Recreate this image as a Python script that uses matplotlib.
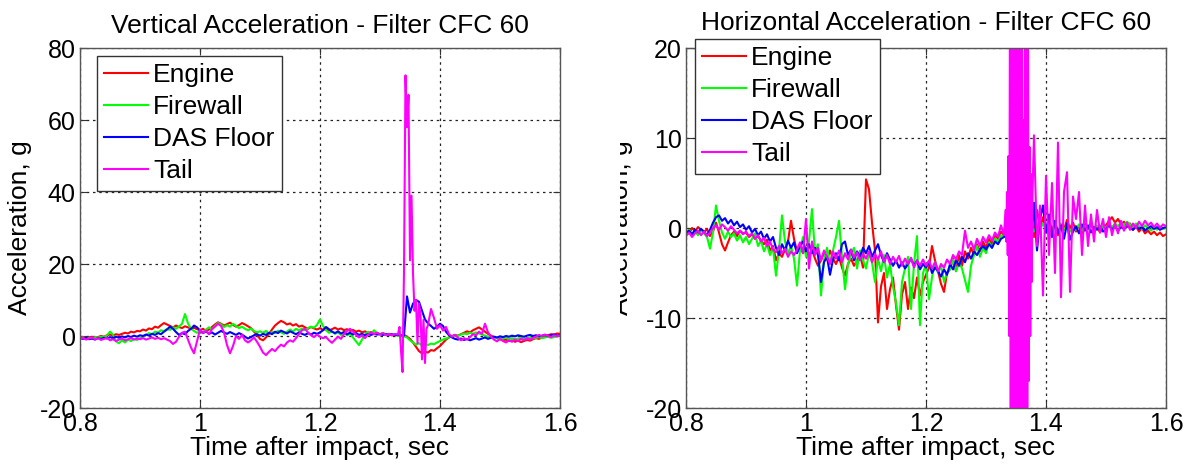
import numpy as np
import matplotlib
matplotlib.use("Agg")
import matplotlib.pyplot as plt
from matplotlib.transforms import Bbox, TransformedBbox

plt.rcParams['font.family'] = ['Liberation Sans', 'DejaVu Sans']
plt.rcParams['axes.unicode_minus'] = False

# ---------------- data ----------------
series_names = ["Engine", "Firewall", "DAS Floor", "Tail"]
series_colors = ["#ff0000", "#00ff00", "#0000ff", "#ff00ff"]

# Vertical acceleration, g (t = 0.800 ... 1.600 s, step 0.005)
v_engine = [
    -0.5,-0.3,-0.6,-0.4,-0.2,-0.5,-0.3,0.0,-0.2,0.2,0.4,0.1,0.5,0.3,0.6,0.9,0.7,1.2,1.0,1.4,
    1.3,1.8,1.5,2.1,1.9,2.6,2.3,3.0,3.6,3.2,2.8,2.4,2.9,2.5,2.2,2.7,2.4,2.0,2.3,1.9,
    1.6,2.0,1.4,1.8,2.5,3.2,3.8,3.4,2.9,3.3,3.7,3.1,2.6,3.0,3.6,3.2,2.7,2.2,1.2,0.3,
    -0.8,-1.2,-0.4,0.6,1.8,2.9,3.6,4.2,3.8,3.2,3.5,2.9,3.3,2.6,2.9,2.4,2.0,2.5,2.1,1.8,
    2.2,1.7,2.0,1.5,1.9,2.3,1.8,2.1,1.6,1.9,1.4,1.7,1.2,1.5,1.0,1.3,0.8,1.1,0.6,0.9,
    0.5,0.7,0.3,0.5,0.2,0.4,0.1,0.0,0.3,-0.2,-0.8,-1.8,-3.0,-4.2,-4.8,-4.4,-4.6,-3.9,-4.1,-3.4,
    -2.8,-1.9,-1.0,-0.4,0.0,0.3,0.1,0.5,0.9,1.3,1.0,1.6,2.0,2.4,1.8,1.2,0.6,0.1,-0.3,-0.6,
    -0.9,-1.2,-1.0,-1.4,-1.2,-1.6,-1.3,-1.7,-1.4,-1.1,-1.3,-0.9,-0.6,-0.8,-0.4,-0.1,0.2,0.5,0.4,0.7,
    0.6]
v_firewall = [
    -0.6,-0.4,-0.7,-0.5,-0.8,-0.3,-0.5,-0.2,-0.4,0.2,1.2,0.4,-1.5,-2.0,-1.2,-1.8,-1.0,-1.4,-0.8,-1.1,
    -0.6,-0.2,0.3,0.8,0.5,1.2,0.9,1.6,1.3,2.0,1.7,2.4,2.0,2.6,3.4,6.1,3.5,2.0,1.4,0.9,
    1.3,0.8,1.8,2.4,1.9,2.8,3.6,3.2,2.5,3.0,2.6,3.4,2.8,2.2,2.6,2.0,1.6,2.1,1.4,1.0,
    1.3,0.9,1.4,0.7,1.1,0.8,1.5,1.0,0.6,1.2,1.8,1.3,2.0,1.5,2.1,1.6,2.2,2.6,2.3,3.1,
    4.6,2.8,1.6,0.9,1.3,0.6,1.0,0.3,0.8,0.2,0.6,-0.4,-1.5,-2.5,-1.0,0.4,1.2,0.5,1.6,0.8,
    0.5,0.9,0.3,0.6,0.2,0.4,0.0,0.2,-0.1,-0.4,-1.2,-1.8,-2.4,-2.0,-2.6,-2.2,-2.5,-2.1,-2.3,-1.8,
    -1.4,-1.0,-0.7,-0.4,-0.1,0.2,0.0,0.4,0.7,0.5,0.9,0.6,1.0,0.7,0.4,0.1,-0.2,-0.5,-0.3,-0.6,
    -0.4,-0.7,-0.5,-0.8,-0.6,-0.9,-0.7,-0.5,-0.8,-0.6,-0.4,-0.7,-0.5,-0.3,-0.6,-0.4,-0.2,-0.5,-0.3,-0.1,
    0.0]
v_das = [
    -0.6,-0.8,-0.5,-0.9,-0.7,-1.0,-0.6,-0.8,-0.5,-0.7,-0.3,-0.6,-0.2,-0.5,-0.1,-0.4,0.0,-0.3,0.1,-0.2,
    0.2,0.0,0.4,0.1,0.6,0.3,0.8,0.5,1.2,1.8,2.6,2.0,1.1,0.3,0.8,0.5,1.4,2.0,2.9,2.4,
    1.5,0.8,1.3,0.6,1.0,0.4,0.9,1.4,1.0,0.6,1.1,0.7,0.3,0.8,0.4,-0.2,-0.7,-0.3,0.2,0.5,
    0.1,0.6,0.3,0.9,0.5,1.2,0.8,1.5,1.1,0.7,1.3,0.9,0.5,1.0,0.6,0.3,0.8,0.4,0.9,0.6,
    1.0,1.6,2.5,1.9,1.2,0.8,1.3,0.7,1.1,0.5,0.9,0.4,0.8,0.3,0.6,0.2,0.5,0.3,0.6,0.4,
    0.5,0.3,0.6,0.4,0.5,0.3,0.4,0.2,0.1,11.0,6.5,9.0,10.0,9.5,7.0,4.6,3.5,2.8,2.0,2.6,
    3.4,2.8,1.2,0.2,-0.4,-0.8,-1.0,-0.7,-1.1,-0.8,-1.2,-0.9,-0.6,-1.0,-0.7,-0.4,-0.8,-0.5,-0.2,-0.4,
    -0.1,-0.3,0.0,-0.2,0.1,-0.1,0.2,0.0,-0.2,0.1,0.3,0.0,0.2,-0.1,0.1,0.3,0.0,0.2,0.4,0.1,
    0.2]
# Tail: 0.800-1.325 (step 0.005), 1.330-1.3775 (step 0.0025), 1.380-1.600 (step 0.005)
v_tail_a = [
    -0.8,-0.5,-1.0,-0.7,-0.4,-0.9,-0.6,-1.1,-0.8,-0.5,-1.2,-0.9,-1.4,-1.0,-0.7,-1.2,-0.9,-0.6,-1.0,-0.7,
    -0.9,-0.6,-1.0,-0.7,-0.4,-0.8,-0.5,-0.9,-0.6,-1.0,-1.4,-2.2,-1.6,-0.2,0.9,1.2,-1.0,-3.2,-4.8,-1.5,
    1.8,0.8,1.5,0.5,1.9,2.6,3.4,2.8,1.0,-2.5,-4.8,-2.8,0.0,-0.8,0.3,-1.2,-1.8,-1.2,-0.4,-1.6,
    -3.0,-4.6,-5.3,-4.4,-3.6,-4.2,-3.2,-2.4,-2.9,-1.8,-1.2,-1.6,-0.6,0.5,1.6,2.0,1.0,0.2,-0.3,0.4,
    -0.2,-0.6,-0.3,-1.2,-1.9,-1.0,-0.2,-0.8,0.5,1.4,2.0,1.2,0.3,-0.4,0.2,-0.6,0.4,1.0,0.5,0.9,
    0.4,0.8,0.3,0.6,0.2,0.5]
v_tail_b = [0.5,2.5,-4.0,-10.0,18.0,72.4,58.0,67.0,21.0,39.0,17.5,7.0,10.0,-2.0,9.0,6.0,-6.5,4.5,-7.5,2.0]
v_tail_c = [3.0,7.5,5.0,2.0,3.0,1.5,2.5,0.5,-0.2,0.3,-0.5,-1.2,-0.6,-1.0,-0.3,0.5,0.2,1.2,0.6,3.4,
    1.0,-0.2,-1.0,-1.5,-0.8,-1.4,-1.8,-1.2,-1.6,-1.0,-1.4,-0.8,-1.2,-0.6,-1.0,-0.5,-0.2,0.3,-0.1,0.4,
    0.0,-0.3,0.2,-0.1,0.1]

# Horizontal acceleration, g (t = 0.800 ... 1.600 s, step 0.005)
h_engine = [
    -0.3,-0.6,0.0,-0.4,0.1,-0.2,-0.5,-0.1,-0.9,-0.4,0.6,-0.5,-1.8,-2.5,-1.6,-0.8,-0.4,-0.9,-0.3,-0.6,
    -0.5,-1.0,-0.7,-1.2,-0.9,-1.4,-1.8,-1.3,-2.5,-2.0,-3.6,-2.8,-3.2,-2.4,-1.5,0.8,-1.2,-2.6,-2.0,-2.8,
    -2.2,-3.0,-2.4,-3.4,-4.2,-3.6,-2.8,-3.5,-2.5,-3.4,-4.0,-3.2,-4.4,-5.3,-4.0,-3.4,-4.2,-3.6,-2.9,-4.4,
    5.4,4.3,0.6,-2.5,-10.5,-6.5,-5.0,-9.0,-6.8,-5.5,-8.6,-11.3,-7.4,-6.0,-9.0,-6.6,-7.8,-5.5,-7.5,-6.0,
    -5.2,-4.4,-2.0,-3.6,-4.8,-6.2,-7.1,-5.0,-4.6,-3.4,-4.8,-3.0,-4.2,-2.6,-3.4,-2.2,-3.0,-1.8,-2.6,-1.5,
    -2.2,-1.2,-1.8,-0.8,-1.2,-0.4,-0.8,-0.2,-1.5,-3.0,-1.0,0.5,-2.0,1.2,-0.5,1.5,-1.0,2.0,0.0,1.2,
    -0.5,0.8,-0.3,0.6,-0.8,0.4,-0.2,0.9,0.0,0.6,-0.4,0.3,-0.6,0.5,-0.1,0.4,-0.3,0.2,-0.5,0.1,
    0.3,0.8,1.2,0.6,1.0,0.4,0.7,0.1,0.5,-0.2,0.2,-0.4,0.0,-0.6,-0.3,-0.7,-0.4,-0.8,-0.5,-0.9,
    -0.7]
h_firewall = [
    -0.5,-0.2,-0.7,-0.4,-0.8,-0.3,-0.6,-1.0,-2.3,-0.5,2.5,0.8,-0.5,-1.2,-0.4,-1.0,-0.6,-1.4,-0.8,-1.6,
    -1.0,-1.8,-1.2,-0.6,-2.0,-1.4,-2.6,-1.8,-3.0,-2.2,-5.3,-2.4,1.4,-1.5,-2.8,-2.0,-3.4,-6.4,-2.5,-1.0,
    -3.2,-1.5,2.1,-2.8,-1.8,-7.5,-3.5,-2.2,-4.0,-2.5,-1.0,0.8,-3.2,-6.8,-4.0,-3.0,-2.2,-4.5,-2.5,-3.6,
    -4.5,-2.8,-3.8,-6.0,-3.4,-4.8,-3.0,-5.5,-4.0,-6.5,-8.3,-10.8,-6.0,-4.5,-3.2,-9.0,-4.0,-0.9,-10.8,-5.0,
    -4.0,-7.9,-5.5,-3.8,-5.0,-4.2,-6.0,-5.0,-4.6,-3.5,-4.8,-3.8,-4.5,-5.8,-7.1,-4.2,-3.0,-2.0,-3.2,-2.2,
    -2.8,-1.6,-2.2,-1.2,-1.6,-0.8,-1.0,-0.5,-1.2,-0.2,-1.5,-0.5,-0.9,0.2,-0.6,0.6,-0.4,0.3,-0.2,0.5,
    0.0,0.4,-0.3,0.2,-0.5,0.5,-0.2,0.3,-0.4,0.1,-0.2,0.4,-0.3,0.2,-0.1,0.5,0.0,0.3,-0.2,0.2,
    0.0,0.4,0.1,0.5,0.2,0.6,0.3,0.7,0.4,0.1,0.5,0.2,-0.1,0.3,0.0,-0.3,0.1,-0.2,0.2,-0.1,
    0.0]
h_das = [
    -0.6,-0.3,-0.7,-0.2,-0.5,-0.1,-0.4,-0.8,-0.2,0.6,1.2,1.4,0.8,1.1,0.5,0.9,0.3,0.7,0.1,0.4,
    -0.2,0.2,-0.5,-0.1,-0.8,-0.4,-1.2,-0.7,-1.5,-1.0,-2.2,-3.0,-1.8,-2.5,-1.4,-2.2,-1.6,-2.8,-2.0,-1.5,
    -2.6,-1.8,-2.8,-2.2,-3.0,-6.0,-3.8,-3.2,-5.2,-3.5,-2.8,-3.6,-1.8,-1.5,-3.0,-2.4,-3.6,-2.6,-3.2,-2.2,
    -2.8,-2.0,-3.2,-2.5,-1.8,-3.0,-3.8,-2.8,-3.5,-4.2,-3.6,-4.4,-3.8,-4.5,-4.0,-3.4,-4.2,-3.6,-4.6,-4.0,
    -4.4,-3.8,-5.0,-4.4,-4.8,-5.4,-4.6,-5.2,-4.0,-4.6,-3.6,-4.2,-3.2,-3.8,-2.8,-3.4,-2.6,-3.0,-2.4,-2.0,
    -2.4,-1.8,-2.2,-1.5,-1.8,-1.2,-1.0,-0.6,-0.4,-1.5,2.0,-3.0,1.5,-6.8,2.5,-2.0,2.8,-2.5,1.0,2.5,
    -0.5,1.5,-1.0,0.8,-0.6,0.3,-1.2,0.5,-1.3,-0.4,0.2,-0.6,0.4,-0.3,0.3,-0.5,0.1,-0.2,0.2,-0.4,
    -0.1,0.3,-0.2,0.2,-0.3,0.1,-0.1,0.3,0.0,-0.2,0.2,-0.1,0.1,-0.3,0.0,0.2,-0.1,0.1,-0.2,0.0,
    0.1]
# Tail: 0.800-1.330 (step 0.005), 1.3325-1.3775 (step 0.00125), 1.380-1.600 (step 0.005)
h_tail_a = [
    -0.9,-0.5,-1.0,-0.6,-0.3,-0.8,-0.4,-0.9,-0.5,0.0,0.3,-0.2,0.4,0.1,-0.3,0.2,-0.2,-0.6,-0.3,-0.7,
    -0.4,-0.9,-0.6,-1.2,-0.8,-1.5,-1.1,-2.0,-1.5,-2.4,-2.7,-2.0,-2.8,-2.3,-3.2,-2.6,-3.0,-2.4,-1.6,-2.8,
    1.0,-4.5,-1.5,-3.0,-2.2,-3.6,-2.5,-3.2,-4.0,-2.6,-3.4,-2.5,-3.8,-2.8,-3.5,-2.4,-3.3,-2.7,-3.6,-2.9,
    -3.4,-2.6,-3.8,-2.9,-3.5,-2.6,-3.8,-3.0,-4.0,-3.2,-3.8,-3.1,-4.2,-3.4,-4.0,-3.3,-4.4,-3.6,-4.2,-3.5,
    -4.2,-3.6,-4.5,-3.8,-4.8,-4.0,-4.4,-3.5,-4.0,-3.0,-3.5,-2.6,-3.0,-0.3,-2.2,-1.5,-2.4,-1.2,-2.0,-1.0,
    -1.6,-0.8,-1.4,-0.5,-1.0,0.3,-0.8]
h_tail_b = [2.0,-1.5,4.0,-3.0,8.0,-12.0,30.0,-30.0,28.0,-28.0,32.0,-25.0,26.0,-30.0,30.0,-27.0,25.0,-32.0,
    28.0,-26.0,30.0,-22.0,27.0,-28.0,12.0,-30.0,30.0,-24.0,26.0,-21.0,22.0,-17.0,9.0,-12.0,6.0,-6.0,4.0]
h_tail_c = [10.3,-2.0,2.5,-7.5,5.8,-3.0,5.0,-5.0,9.5,-7.7,4.0,6.2,-7.1,3.5,1.0,4.0,-3.0,2.5,-2.0,1.5,
    -1.5,2.0,-0.5,1.0,-1.0,1.2,-0.8,0.5,-0.6,0.8,-0.3,0.6,-0.2,0.5,0.0,0.7,0.2,0.8,0.3,0.6,
    0.1,0.5,0.0,0.4,0.2]

x_ticks = [0.8, 1.0, 1.2, 1.4, 1.6]
x_ticklabels = ["0.8", "1", "1.2", "1.4", "1.6"]
v_yticks = [-20, 0, 20, 40, 60, 80]
h_yticks = [-20, -10, 0, 10, 20]
titles = ["Vertical Acceleration - Filter CFC 60", "Horizontal Acceleration - Filter CFC 60"]
xlabel_text = "Time after impact, sec"
ylabel_text = "Acceleration, g"


def grid_t(start, end, vals):
    return np.linspace(start, end, len(vals))


v_series = [
    (grid_t(0.8, 1.6, v_engine), v_engine),
    (grid_t(0.8, 1.6, v_firewall), v_firewall),
    (grid_t(0.8, 1.6, v_das), v_das),
    (np.concatenate([grid_t(0.8, 1.325, v_tail_a), grid_t(1.33, 1.3775, v_tail_b), grid_t(1.38, 1.6, v_tail_c)]),
     v_tail_a + v_tail_b + v_tail_c),
]
h_series = [
    (grid_t(0.8, 1.6, h_engine), h_engine),
    (grid_t(0.8, 1.6, h_firewall), h_firewall),
    (grid_t(0.8, 1.6, h_das), h_das),
    (np.concatenate([grid_t(0.8, 1.33, h_tail_a), grid_t(1.3325, 1.3775, h_tail_b), grid_t(1.38, 1.6, h_tail_c)]),
     h_tail_a + h_tail_b + h_tail_c),
]

# ---------------- figure ----------------
W, H = 1189, 470
fig = plt.figure(figsize=(W / 100, H / 100), dpi=100)
FS_TICK = 18
FS_LABEL = 19
FS_LEG = 19


def axrect(x0, y0, x1, y1):
    return [x0 / W, 1 - y1 / H, (x1 - x0) / W, (y1 - y0) / H]


ax1 = fig.add_axes(axrect(80, 48, 560, 408))
ax2 = fig.add_axes(axrect(686, 48, 1166, 408))

panels = [
    (ax1, v_series, v_yticks, (-20, 80), (97, 56)),
    (ax2, h_series, h_yticks, (-20, 20), (695, 39)),
]

for ax, series, yticks, ylim, leg_xy in panels:
    for (t, y), name, col in zip(series, series_names, series_colors):
        ax.plot(t, y, color=col, lw=1.5, label=name)
    ax.set_xlim(0.8, 1.6)
    ax.set_ylim(*ylim)
    ax.set_xticks(x_ticks)
    ax.set_xticklabels(x_ticklabels)
    ax.set_yticks(yticks)
    ax.tick_params(direction='in', length=5, width=0.8, top=True, right=True,
                   labelsize=FS_TICK, pad=3, colors='#333333', labelcolor='black')
    for s in ax.spines.values():
        s.set_color('#555555')
        s.set_linewidth(1.0)
    ax.grid(True, color='#222222', linestyle=(0, (2, 3)), linewidth=0.9)
    ax.set_axisbelow(True)
    ax.set_xlabel(xlabel_text, fontsize=FS_LABEL, labelpad=0)
    leg = ax.legend(loc='upper left', bbox_to_anchor=(leg_xy[0] / W, 1 - leg_xy[1] / H),
                    bbox_transform=fig.transFigure, fontsize=FS_LEG, frameon=True, fancybox=False,
                    framealpha=1, edgecolor='#333333', borderpad=0.28, labelspacing=0.3,
                    handlelength=1.65, handletextpad=0.2, borderaxespad=0)
    leg.get_frame().set_linewidth(1.0)

ax1.set_title(titles[0], fontsize=FS_LABEL, pad=11)
ax2.set_title(titles[1], fontsize=FS_LABEL, pad=13)

ax1.set_ylabel(ylabel_text, fontsize=FS_LABEL)
ax1.yaxis.set_label_coords((32 - 80) / 480, 0.5)
yl = ax2.set_ylabel(ylabel_text, fontsize=FS_LABEL)
ax2.yaxis.set_label_coords((633 - 686) / 480, 0.5)
clip = TransformedBbox(Bbox([[620 / W, 0], [1, 1]]), fig.transFigure)
yl.set_clip_box(clip)
yl.set_clip_on(True)

fig.savefig("out.png", dpi=100, facecolor='white')
